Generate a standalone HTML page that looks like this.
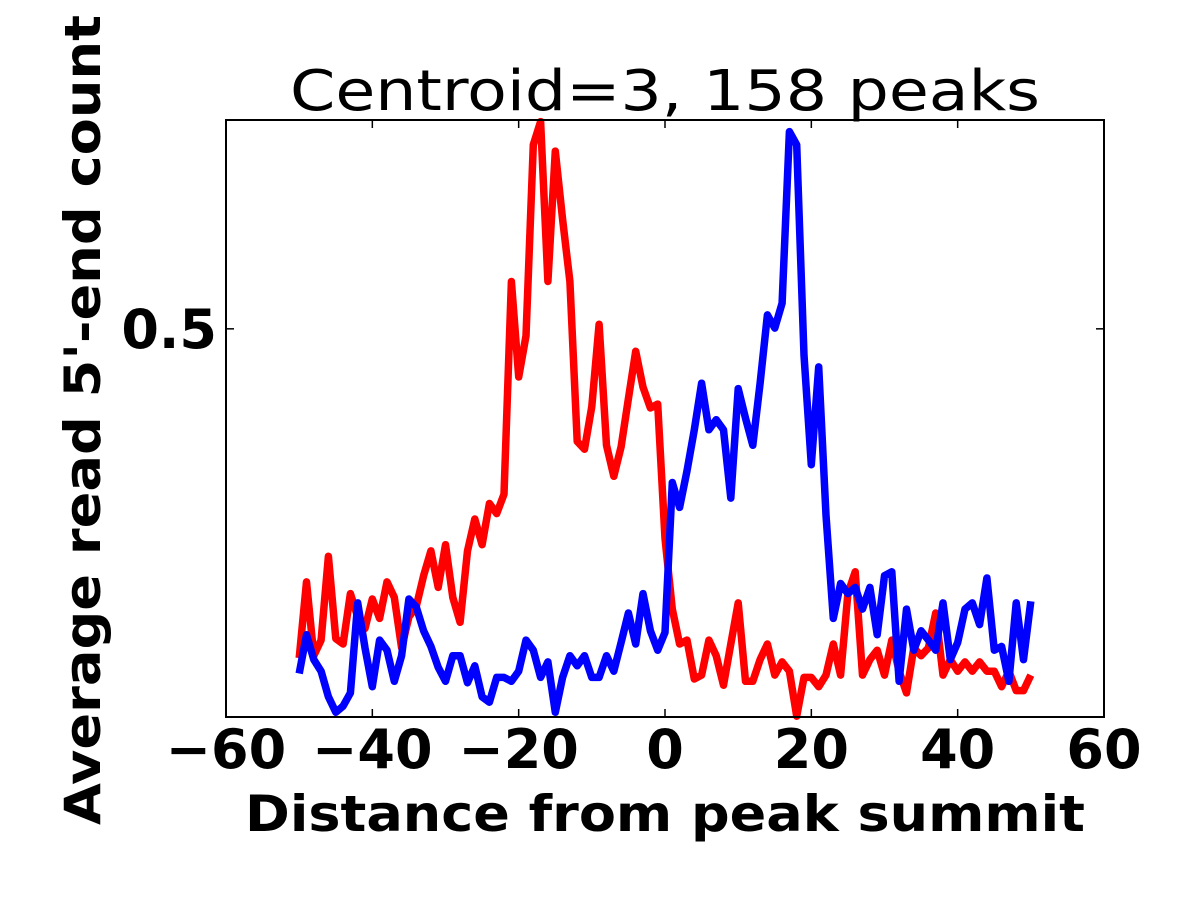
<!DOCTYPE html>
<html><head><meta charset="utf-8"><style>
html,body{margin:0;padding:0;background:#fff;}
svg{display:block;font-family:"DejaVu Sans","Liberation Sans",sans-serif;}
</style></head><body>
<svg id="chart" width="1200" height="900" viewBox="0 0 1200 900" xmlns="http://www.w3.org/2000/svg">
<rect width="1200" height="900" fill="#fff"/>
<text x="665" y="110" font-size="56" text-anchor="middle" textLength="750" lengthAdjust="spacingAndGlyphs">Centroid=3, 158 peaks</text>
<g id="series"></g>
<rect x="226" y="120" width="878" height="597" fill="none" stroke="#000" stroke-width="2"/>
<g id="ticks"></g>
<text x="665" y="831" font-size="50" font-weight="bold" text-anchor="middle" textLength="840" lengthAdjust="spacingAndGlyphs">Distance from peak summit</text>
<text transform="translate(100,420) rotate(-90)" font-size="50" font-weight="bold" text-anchor="middle" textLength="810" lengthAdjust="spacingAndGlyphs">Average read 5'-end count</text>
</svg>
<script>
const xs = [];
for (let i = -50; i <= 50; i++) xs.push(i);
const redValues = [0.076,0.174,0.079,0.099,0.207,0.101,0.094,0.159,0.129,0.114,0.152,0.127,0.174,0.154,0.089,0.129,0.142,0.182,0.214,0.167,0.222,0.154,0.122,0.214,0.255,0.222,0.275,0.262,0.287,0.561,0.438,0.491,0.737,0.767,0.561,0.729,0.641,0.561,0.355,0.345,0.400,0.506,0.350,0.310,0.348,0.410,0.471,0.425,0.398,0.403,0.230,0.139,0.094,0.099,0.049,0.054,0.099,0.079,0.041,0.094,0.147,0.046,0.046,0.074,0.094,0.054,0.071,0.059,0.001,0.051,0.051,0.039,0.054,0.094,0.054,0.159,0.187,0.054,0.074,0.086,0.054,0.099,0.059,0.031,0.089,0.079,0.089,0.134,0.054,0.074,0.059,0.071,0.059,0.071,0.059,0.059,0.039,0.059,0.034,0.034,0.054];
const blueValues = [0.056,0.106,0.074,0.059,0.026,0.006,0.014,0.031,0.147,0.089,0.039,0.099,0.086,0.046,0.079,0.152,0.142,0.111,0.091,0.064,0.046,0.079,0.079,0.044,0.066,0.026,0.019,0.051,0.051,0.046,0.059,0.099,0.086,0.051,0.071,0.006,0.051,0.079,0.066,0.079,0.051,0.051,0.079,0.059,0.096,0.134,0.094,0.159,0.111,0.086,0.109,0.302,0.270,0.317,0.370,0.430,0.370,0.383,0.370,0.282,0.423,0.385,0.350,0.430,0.518,0.501,0.533,0.754,0.737,0.466,0.325,0.451,0.260,0.127,0.172,0.159,0.167,0.139,0.167,0.106,0.182,0.187,0.046,0.139,0.086,0.111,0.099,0.086,0.147,0.074,0.096,0.139,0.147,0.119,0.179,0.086,0.091,0.046,0.147,0.074,0.149];
const xTicks = [-60,-40,-20,0,20,40,60];
const xTickLabels = ["\u221260","\u221240","\u221220","0","20","40","60"];
const yTicks = [0.5];
const yTickLabels = ["0.5"];
const xMin=-60, xMax=60, yMin=0, yMax=0.769;
const L=226,R=1104,T=120,B=717;
function sx(v){return L+(v-xMin)/(xMax-xMin)*(R-L);}
function sy(v){return B-(v-yMin)/(yMax-yMin)*(B-T);}
const NS="http://www.w3.org/2000/svg";
const sg=document.getElementById('series');
function line(vals,color,name){
  const p=document.createElementNS(NS,'polyline');
  p.setAttribute('points',vals.map((v,i)=>sx(xs[i]).toFixed(1)+','+sy(v).toFixed(1)).join(' '));
  p.setAttribute('fill','none');p.setAttribute('stroke',color);p.setAttribute('stroke-width','7.5');
  p.setAttribute('stroke-linejoin','round');
  
  
  sg.appendChild(p);
}
line(redValues,'#ff0000','red-series-line');
line(blueValues,'#0000ff','blue-series-line');
const tg=document.getElementById('ticks');
xTicks.forEach((t,i)=>{
  const x=sx(t);
  [[B,B-8],[T,T+8]].forEach(([a,b])=>{
    const l=document.createElementNS(NS,'line');
    l.setAttribute('x1',x);l.setAttribute('x2',x);l.setAttribute('y1',a);l.setAttribute('y2',b);
    l.setAttribute('stroke','#000');l.setAttribute('stroke-width','1.5');
    
    
    tg.appendChild(l);
  });
  const tx=document.createElementNS(NS,'text');
  tx.setAttribute('x',x);tx.setAttribute('y',768);tx.setAttribute('font-size','54');
  tx.setAttribute('font-weight','bold');tx.setAttribute('text-anchor','middle');
  tx.textContent=xTickLabels[i];
  
  
  tg.appendChild(tx);
});
yTicks.forEach((t,i)=>{
  const y=sy(t);
  [[L,L+8],[R,R-8]].forEach(([a,b])=>{
    const l=document.createElementNS(NS,'line');
    l.setAttribute('x1',a);l.setAttribute('x2',b);l.setAttribute('y1',y);l.setAttribute('y2',y);
    l.setAttribute('stroke','#000');l.setAttribute('stroke-width','1.5');
    
    
    tg.appendChild(l);
  });
  const tx=document.createElementNS(NS,'text');
  tx.setAttribute('x',217);tx.setAttribute('y',y+19);tx.setAttribute('font-size','54');
  tx.setAttribute('font-weight','bold');tx.setAttribute('text-anchor','end');
  tx.textContent=yTickLabels[i];
  
  
  tg.appendChild(tx);
});
</script>
</body></html>
